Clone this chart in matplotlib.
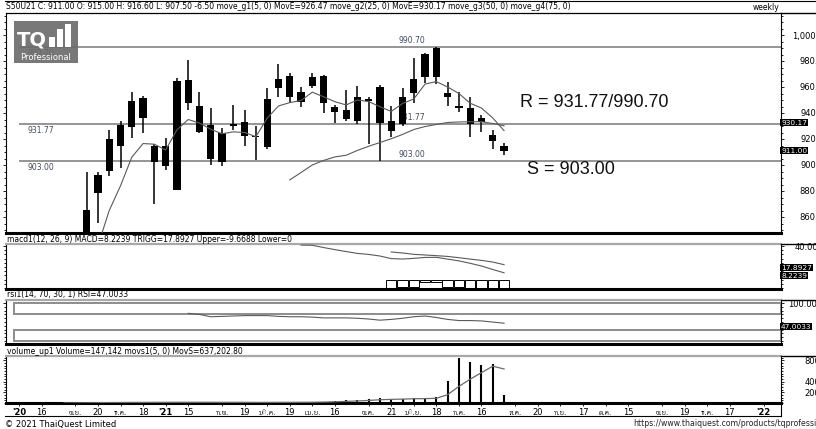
import numpy as np
import matplotlib
matplotlib.use("Agg")
import matplotlib.pyplot as plt
from matplotlib import font_manager, ft2font
from matplotlib.patches import Rectangle
from matplotlib.lines import Line2D
from matplotlib.ticker import FixedLocator, MultipleLocator, FuncFormatter


def find_thai_font():
    # DejaVu has no Thai, so look for any installed face that has it
    for path in font_manager.findSystemFonts():
        try:
            if 0x0E01 in ft2font.FT2Font(path).get_charmap():
                return font_manager.FontProperties(fname=path).get_name()
        except Exception:
            continue
    return None


thai = find_thai_font()
fams = ['DejaVu Sans'] + ([thai] if thai else [])
plt.rcParams['font.family'] = fams

# weekly bars, index 0 = week of 13 Nov 2020
week = list(range(38))
opens = [838.0, 878.5, 895.4, 914.8, 929.0, 936.4, 914.6, 899.5, 880.8, 965.4,
         945.6, 930.8, 902.1, 930.0, 933.3, 922.4, 914.1, 959.5, 968.5, 948.7,
         961.0, 968.7, 944.4, 935.4, 952.1, 949.5, 960.2, 934.1, 931.5, 955.6,
         967.9, 967.9, 955.1, 945.0, 943.6, 936.4, 923.1, 915.0]
highs = [894.6, 894.6, 926.9, 933.8, 956.4, 953.1, 915.8, 921.0, 967.2, 980.8,
         956.4, 944.1, 928.2, 946.2, 942.3, 930.0, 959.5, 977.7, 970.5, 960.2,
         970.5, 969.2, 946.2, 957.7, 961.0, 952.5, 961.5, 945.6, 959.5, 982.1,
         985.9, 990.7, 964.1, 956.4, 952.1, 938.5, 926.9, 916.6]
lows = [832.0, 855.6, 891.8, 897.9, 920.5, 924.9, 869.8, 896.2, 880.8, 942.3,
        924.4, 900.0, 899.2, 926.9, 914.6, 903.8, 912.1, 952.0, 947.9, 944.4,
        959.0, 940.2, 932.5, 934.1, 931.5, 915.9, 903.0, 921.8, 930.0, 947.9,
        962.8, 962.3, 945.4, 941.0, 921.8, 925.6, 912.1, 907.5]
closes = [865.4, 892.3, 919.8, 930.8, 949.5, 951.8, 902.1, 914.6, 964.8, 947.9,
          925.6, 904.4, 924.9, 931.5, 922.5, 921.2, 950.5, 965.9, 952.1, 955.9,
          967.9, 947.9, 941.0, 942.3, 933.8, 950.5, 932.1, 926.2, 952.5, 966.2,
          985.4, 989.8, 952.1, 944.0, 931.5, 933.3, 918.7, 911.0]

ma5_week = list(range(1, 38))
ma5 = [838, 865, 884, 906, 916.5, 916, 911.5, 927, 935, 932.3, 927.5, 924, 925.5,
       925, 921.8, 936, 945.4, 948, 949.6, 956, 952.5, 948.7, 946.2, 950, 948.8,
       944.8, 941.2, 947.3, 950.8, 962.3, 964.1, 960, 955, 947.5, 943.8, 936.2, 926.47]
ma25_week = list(range(18, 38))
ma25 = [888.5, 894.2, 900, 903.5, 906.2, 907.5, 911.2, 914.4, 917.3, 920.2,
        923.5, 927.3, 929.6, 931.2, 932.7, 933.1, 933.3, 933.3, 931.9, 930.17]

levels = [990.70, 931.77, 903.00]
level_labels = ['990.70', '931.77', '903.00']

macd_week = list(range(19, 38))
macd = [41.2, 41.0, 38.3, 35.8, 33.5, 31.3, 30.1, 28.2, 25.1, 24.6, 25.4, 26.5,
        26.6, 24.5, 22.4, 19.5, 16.3, 12.1, 8.2239]
trigg_week = list(range(27, 38))
trigg = [33.0, 31.8, 30.2, 29.4, 28.6, 27.7, 26.2, 24.5, 23.0, 21.0, 17.8927]
hist = [-10.0, -9.0, -9.0, -2.5, -2.2, -9.0, -9.0, -9.5, -9.5, -10.0, -9.6688]

rsi_week = list(range(9, 38))
rsi = [73, 70, 64, 65, 66, 67, 67, 67, 65, 64, 64, 63, 61, 61, 61, 60, 58, 55,
       57, 60, 64, 66, 62, 57, 54, 54, 53, 50, 47.0033]

vol_week = list(range(-6, 38))
volume_k = [1, 1, 1, 1, 3, 6, 8, 10, 10, 12, 13, 12, 13, 12, 14, 13, 12, 13, 12, 12,
            11, 10, 12, 13, 12, 15, 19, 25, 38, 51, 57, 70, 90, 70, 70, 90, 90, 121,
            408, 845, 765, 705, 724, 147.142]
movs_week = list(range(-2, 38))
movs_k = [1, 2, 4, 6, 8, 9, 11, 11, 12, 12, 13, 13, 13, 13, 12, 12, 12, 11, 11, 12,
          12, 13, 14, 17, 22, 30, 38, 48, 61, 68, 73, 80, 82, 88, 156, 311, 446, 569,
          689, 637.2]

tick_week = [-6, -4, -1, 1, 3, 5, 7, 9, 12, 14, 16, 18, 20, 22, 25, 27, 29, 31, 33,
             35, 38, 40, 42, 44, 46, 48, 51, 53, 55, 57, 60]
tick_text = ["'20", '16', 'พ.ย.', '20', 'ธ.ค.', '18', "'21", '15', 'ก.พ.', '19',
             'มี.ค.', '19', 'เม.ย.', '16', 'พ.ค.', '21', 'มิ.ย.', '18', 'ก.ค.', '16',
             'ส.ค.', '20', 'ก.ย.', '17', 'ต.ค.', '15', 'พ.ย.', '19', 'ธ.ค.', '17', "'22"]

header = ('S50U21 C: 911.00 O: 915.00 H: 916.60 L: 907.50 -6.50 move_g1(5, 0) '
          'MovE=926.47 move_g2(25, 0) MovE=930.17 move_g3(50, 0) move_g4(75, 0)')

W, H = 816, 429
LPX, RPX = 6, 781
XMIN, XMAX = -7.15, 61.55
FS = 5.5
GRAY = '#5a5a5a'

fig = plt.figure(figsize=(W / 100, H / 100), dpi=100)


def fline(x0, x1, y0, y1, lw=0.8, color='black'):
    fig.add_artist(Line2D([x0 / W, x1 / W], [1 - y0 / H, 1 - y1 / H], lw=lw, color=color))


def panel(top, bottom, pad):
    ax = fig.add_axes([LPX / W, 1 - bottom / H, (RPX - LPX) / W, (bottom - top) / H])
    ax.set_xlim(XMIN, XMAX)
    ax.set_xticks([])
    for s in ax.spines.values():
        s.set_linewidth(0.8)
    ax.spines['top'].set_color('#a8a8a8')
    ax.spines['top'].set_linewidth(1.6)
    ax.spines['bottom'].set_linewidth(2.2)
    ax.yaxis.set_ticks_position('both')
    ax.tick_params(axis='y', which='both', direction='out', labelleft=False,
                   labelright=True, labelsize=6, width=0.6, pad=pad, colors='black')
    ax.tick_params(axis='y', which='major', length=2.5)
    ax.tick_params(axis='y', which='minor', length=1.3)
    fline(RPX, W, top, top, lw=1.0)
    return ax


def fix_labels(ax):
    for t in ax.yaxis.get_major_ticks():
        t.label2.set_horizontalalignment('right')


def value_box(ax, y, text, va):
    ax.text(1.0, y, text, transform=ax.get_yaxis_transform(), ha='left', va=va,
            color='white', fontsize=5.3, zorder=6, clip_on=False,
            bbox=dict(facecolor='black', edgecolor='none', pad=0.5))


# header row
fline(5, W, 0.5, 0.5)
fig.text(6 / W, 1 - 6.5 / H, header, fontsize=FS, va='center', ha='left')
fig.text(766 / W, 1 - 8 / H, 'weekly', fontsize=FS, va='center', ha='center')

# ---- price panel
ax = panel(12.5, 233, 32)
ax.spines['top'].set_color('black')
ax.spines['top'].set_linewidth(0.9)
ax.set_ylim(1000 - (233 - 35) / 1.3, 1000 + (35 - 12.5) / 1.3)
ax.yaxis.set_major_locator(FixedLocator(range(860, 1001, 20)))
ax.yaxis.set_minor_locator(MultipleLocator(5))
ax.yaxis.set_major_formatter(FuncFormatter(lambda v, p: f'{v:,.2f}'))

ax.hlines(levels, -6, XMAX, color='#8c8c8c', lw=1.3, zorder=1)
for lv, lb in zip(levels, level_labels):
    ax.annotate(lb, (-4.1, lv), xytext=(0, -1.5), textcoords='offset points',
                ha='center', va='top', fontsize=FS, color='#3f4a5a', zorder=1)
    ax.annotate(lb, (28.8, lv), xytext=(0, 1.5), textcoords='offset points',
                ha='center', va='bottom', fontsize=FS, color='#3f4a5a', zorder=1)

o = np.array(opens)
c = np.array(closes)
lo_b = np.minimum(o, c)
hi_b = np.maximum(o, c)
ax.vlines(week, lows, highs, color='black', lw=1.1, zorder=3)
ax.bar(week, np.maximum(hi_b - lo_b, 1.0), bottom=lo_b, width=0.64, color='black', zorder=3)
ax.plot(ma5_week, ma5, color=GRAY, lw=0.8, zorder=4)
ax.plot(ma25_week, ma25, color=GRAY, lw=0.8, zorder=4)

ax.text(38.4, 947.7, 'R = 931.77/990.70', fontsize=13, family='Liberation Sans',
        ha='left', va='center', color='#111111')
ax.text(39.05, 896.2, 'S = 903.00', fontsize=13, family='Liberation Sans',
        ha='left', va='center', color='#111111')
value_box(ax, 930.17, '930.17', 'bottom')
value_box(ax, 911.0, '911.00', 'center')
fix_labels(ax)

# ---- MACD panel
fig.text(7 / W, 1 - 239 / H, 'macd1(12, 26, 9) MACD=8.2239 TRIGG=17.8927 Upper=-9.6688 Lower=0',
         fontsize=FS, va='center', ha='left')
am = panel(244, 288.5, 32)
am.set_ylim(-10.5, 42.5)
am.yaxis.set_major_locator(FixedLocator([40]))
am.yaxis.set_minor_locator(MultipleLocator(5))
am.yaxis.set_major_formatter(FuncFormatter(lambda v, p: f'{v:.4f}'))
am.bar(trigg_week, hist, width=0.92, facecolor='white', edgecolor='black', lw=0.7, zorder=2)
am.plot(macd_week, macd, color=GRAY, lw=0.8, zorder=3)
am.plot(trigg_week, trigg, color=GRAY, lw=0.8, zorder=3)
value_box(am, 17.8927, '17.8927', 'top')
value_box(am, 8.2239, '8.2239', 'top')
fix_labels(am)

# ---- RSI panel
fig.text(7 / W, 1 - 295 / H, 'rsi1(14, 70, 30, 1) RSI=47.0033', fontsize=FS, va='center', ha='left')
ar = panel(300, 343.5, 31)
ar.set_ylim(-6.3, 108)
ar.yaxis.set_major_locator(FixedLocator([100]))
ar.yaxis.set_minor_locator(MultipleLocator(10))
ar.yaxis.set_major_formatter(FuncFormatter(lambda v, p: f'{v:.4f}'))
band_tf = ar.get_yaxis_transform()
ar.add_patch(Rectangle((0.0105, 70), 0.99, 31, transform=band_tf, fill=False,
                       edgecolor='#8c8c8c', lw=1.4))
ar.add_patch(Rectangle((0.0105, -0.5), 0.99, 30.5, transform=band_tf, fill=False,
                       edgecolor='#8c8c8c', lw=1.4))
ar.plot(rsi_week, rsi, color=GRAY, lw=0.8, zorder=3)
value_box(ar, 45.5, '47.0033', 'top')
fix_labels(ar)

# ---- volume panel
fig.text(7 / W, 1 - 351 / H, 'volume_up1 Volume=147,142 movs1(5, 0) MovS=637,202.80',
         fontsize=FS, va='center', ha='left')
av = panel(356, 403, 37)
av.set_ylim(0, 880)
av.yaxis.set_major_locator(FixedLocator([200, 400, 800]))
av.yaxis.set_minor_locator(MultipleLocator(50))
av.yaxis.set_major_formatter(FuncFormatter(lambda v, p: f'{v * 1000:.0f}'))
av.vlines(vol_week, 0, volume_k, color='black', lw=1.5, zorder=3)
av.plot(movs_week, movs_k, color='#6a6a6a', lw=0.9, zorder=4)
fix_labels(av)

av.set_xticks(tick_week)
av.set_xticklabels(tick_text, fontsize=6)
av.tick_params(axis='x', length=2, width=0.6, pad=1.5)
for lbl in av.get_xticklabels():
    if lbl.get_text().startswith("'"):
        lbl.set_fontweight('bold')

# bottom strip of the date axis
fline(5, RPX, 416, 416)
fline(RPX, RPX, 403, 416)

# logo
fig.add_artist(Rectangle((14 / W, 1 - 63 / H), 64 / W, 42 / H, transform=fig.transFigure,
                         facecolor='#6c6c6c', edgecolor='none', alpha=0.92, zorder=5))
fig.text(17 / W, 1 - 40 / H, 'TQ', color='white', fontsize=14, fontweight='bold',
         va='center', ha='left', zorder=6)
for bx, btop in [(49, 37), (57, 29), (65, 24)]:
    fig.add_artist(Rectangle((bx / W, 1 - 47 / H), 6 / W, (47 - btop) / H,
                             transform=fig.transFigure, facecolor='white',
                             edgecolor='none', zorder=6))
fig.text(46 / W, 1 - 57 / H, 'Professional', color='white', fontsize=6,
         va='center', ha='center', zorder=6)

# footer
fig.text(5 / W, 1 - 424 / H, '© 2021 ThaiQuest Limited', fontsize=6, va='center', ha='left')
fig.text(633 / W, 1 - 424 / H, 'https://www.thaiquest.com/products/tqprofessional',
         fontsize=5.6, va='center', ha='left', color='#222222')

fig.savefig('out.png', dpi=100)
